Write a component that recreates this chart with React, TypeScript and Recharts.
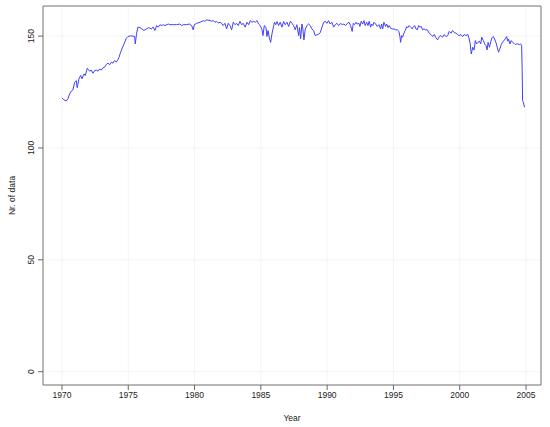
import React from "react";
import { LineChart, Line, XAxis, YAxis, CartesianGrid, ReferenceArea, Label } from "recharts";

const years: number[] = [
  1970.00, 1970.15, 1970.32, 1970.45, 1970.58, 1970.70, 1970.83, 1970.96, 1971.08, 1971.15,
  1971.28, 1971.41, 1971.51, 1971.66, 1971.76, 1971.91, 1972.09, 1972.21, 1972.34, 1972.47,
  1972.59, 1972.71, 1972.84, 1972.96, 1973.09, 1973.22, 1973.34, 1973.47, 1973.60, 1973.72,
  1973.85, 1973.97, 1974.10, 1974.22, 1974.30, 1974.40, 1974.55, 1974.68, 1974.85, 1974.98,
  1975.18, 1975.35, 1975.48, 1975.53, 1975.63, 1975.73, 1975.88, 1976.03, 1976.18, 1976.36,
  1976.54, 1976.73, 1976.89, 1977.01, 1977.14, 1977.26, 1977.39, 1977.52, 1977.64, 1977.77,
  1978.02, 1978.14, 1978.39, 1978.65, 1978.90, 1979.03, 1979.15, 1979.40, 1979.60, 1979.78,
  1979.90, 1979.98, 1980.16, 1980.41, 1980.66, 1980.78, 1980.91, 1981.16, 1981.29, 1981.41,
  1981.54, 1981.67, 1981.79, 1981.92, 1982.04, 1982.16, 1982.29, 1982.42, 1982.54, 1982.67,
  1982.80, 1982.92, 1983.05, 1983.17, 1983.30, 1983.42, 1983.55, 1983.67, 1983.82, 1983.95,
  1984.08, 1984.20, 1984.33, 1984.46, 1984.58, 1984.71, 1984.83, 1984.95, 1985.08, 1985.16,
  1985.26, 1985.38, 1985.46, 1985.54, 1985.63, 1985.74, 1985.84, 1985.97, 1986.04, 1986.12,
  1986.22, 1986.34, 1986.46, 1986.59, 1986.72, 1986.84, 1986.97, 1987.10, 1987.22, 1987.35,
  1987.47, 1987.59, 1987.72, 1987.85, 1987.92, 1988.00, 1988.10, 1988.17, 1988.25, 1988.35,
  1988.48, 1988.60, 1988.73, 1988.85, 1988.98, 1989.10, 1989.23, 1989.36, 1989.48, 1989.61,
  1989.74, 1989.86, 1989.98, 1990.11, 1990.23, 1990.36, 1990.49, 1990.61, 1990.74, 1990.87,
  1991.02, 1991.14, 1991.27, 1991.39, 1991.52, 1991.64, 1991.77, 1991.89, 1991.97, 1992.07,
  1992.17, 1992.27, 1992.40, 1992.47, 1992.57, 1992.68, 1992.78, 1992.87, 1992.98, 1993.08,
  1993.17, 1993.28, 1993.36, 1993.45, 1993.53, 1993.66, 1993.78, 1993.91, 1994.03, 1994.11,
  1994.19, 1994.28, 1994.41, 1994.49, 1994.59, 1994.68, 1994.79, 1994.91, 1995.04, 1995.17,
  1995.29, 1995.41, 1995.49, 1995.54, 1995.62, 1995.69, 1995.79, 1995.89, 1996.00, 1996.09,
  1996.19, 1996.30, 1996.42, 1996.49, 1996.60, 1996.70, 1996.80, 1996.90, 1997.00, 1997.10,
  1997.20, 1997.30, 1997.43, 1997.55, 1997.70, 1997.83, 1997.96, 1998.08, 1998.21, 1998.33,
  1998.46, 1998.58, 1998.71, 1998.83, 1998.96, 1999.09, 1999.21, 1999.34, 1999.46, 1999.58,
  1999.71, 1999.84, 1999.96, 2000.09, 2000.22, 2000.34, 2000.47, 2000.61, 2000.72, 2000.79,
  2000.87, 2000.98, 2001.08, 2001.18, 2001.28, 2001.38, 2001.48, 2001.58, 2001.66, 2001.78,
  2001.88, 2001.98, 2002.06, 2002.14, 2002.24, 2002.35, 2002.43, 2002.53, 2002.63, 2002.73,
  2002.83, 2002.93, 2003.03, 2003.13, 2003.23, 2003.33, 2003.43, 2003.54, 2003.62, 2003.68,
  2003.79, 2003.88, 2003.99, 2004.09, 2004.19, 2004.29, 2004.39, 2004.49, 2004.59, 2004.67,
  2004.71, 2004.74, 2004.79, 2004.89,
];

const counts: number[] = [
  122.4, 121.5, 121.0, 122.0, 124.2, 125.4, 126.0, 129.4, 130.1, 126.9,
  130.9, 132.4, 130.9, 133.1, 132.4, 135.6, 134.3, 134.8, 133.4, 134.6,
  134.8, 134.3, 135.3, 134.8, 135.8, 136.1, 137.3, 137.9, 137.2, 138.3,
  137.9, 139.1, 138.4, 139.4, 140.5, 142.3, 144.7, 146.5, 149.0, 149.8,
  150.1, 150.0, 149.8, 146.5, 151.3, 154.0, 153.8, 153.2, 152.5, 153.2,
  153.8, 153.2, 154.0, 152.5, 154.7, 154.0, 155.1, 154.7, 155.1, 154.7,
  155.4, 155.1, 155.1, 155.1, 155.4, 154.7, 155.1, 155.1, 155.4, 154.7,
  152.8, 155.1, 155.7, 156.2, 156.9, 156.6, 157.2, 157.0, 156.6, 157.0,
  156.2, 156.6, 155.9, 156.2, 155.7, 154.7, 155.7, 153.2, 155.7, 154.7,
  152.8, 156.2, 155.1, 155.7, 154.7, 156.6, 155.1, 155.7, 154.0, 156.2,
  155.1, 156.9, 156.2, 156.6, 156.2, 156.9, 155.4, 154.7, 153.2, 150.2,
  154.7, 154.0, 149.8, 152.5, 149.5, 147.2, 151.0, 154.7, 156.2, 155.1,
  156.5, 154.7, 156.2, 154.0, 156.5, 155.1, 156.2, 154.3, 156.6, 155.7,
  154.7, 152.8, 155.1, 150.2, 153.8, 148.7, 155.4, 153.2, 148.3, 153.2,
  154.7, 155.4, 154.7, 153.2, 152.5, 150.2, 150.6, 150.9, 151.5, 154.0,
  156.2, 156.6, 155.7, 156.9, 155.4, 156.2, 154.0, 155.1, 155.7, 154.7,
  155.7, 155.1, 155.4, 154.7, 155.7, 156.2, 154.7, 152.1, 155.7, 155.1,
  156.2, 155.4, 155.7, 154.3, 156.6, 155.4, 156.9, 154.7, 156.2, 154.7,
  156.6, 154.0, 155.4, 154.7, 156.2, 155.4, 154.3, 155.1, 153.2, 155.4,
  153.2, 156.2, 154.3, 155.4, 153.8, 154.7, 153.5, 153.2, 153.2, 152.8,
  152.8, 152.1, 149.8, 147.2, 150.2, 149.5, 151.3, 152.5, 154.2, 153.8,
  154.7, 154.0, 153.2, 154.0, 154.7, 153.2, 152.8, 154.7, 154.0, 154.3,
  152.8, 153.2, 152.8, 152.8, 151.3, 150.7, 149.8, 150.7, 149.2, 148.3,
  149.8, 150.2, 149.5, 150.7, 149.8, 150.2, 152.1, 151.3, 152.5, 151.6,
  151.3, 150.7, 150.2, 150.7, 149.8, 150.7, 150.2, 150.7, 148.7, 146.5,
  142.0, 145.0, 143.8, 148.0, 146.5, 147.2, 147.7, 146.5, 149.5, 148.0,
  146.5, 145.8, 143.8, 147.2, 145.0, 147.7, 149.2, 149.8, 148.7, 147.2,
  145.0, 142.8, 144.3, 146.2, 147.2, 148.0, 148.7, 149.8, 147.7, 148.7,
  146.5, 148.0, 147.2, 146.8, 146.2, 146.5, 146.5, 146.2, 146.5, 145.8,
  134.6, 121.2, 120.5, 118.2,
];

const xTicks: number[] = [1970, 1975, 1980, 1985, 1990, 1995, 2000, 2005];
const yTicks: number[] = [0, 50, 100, 150];
const xDomain: [number, number] = [1968.57, 2006.13];
const yDomain: [number, number] = [-5.95, 163.45];

const data = years.map((y, i) => ({ year: y, n: counts[i] }));

const FONT = "'Liberation Sans', Arial, sans-serif";
const TEXT = "#222";

const YTick = (props: any) => {
  const { x, y, payload } = props;
  return (
    <text
      x={x}
      y={y}
      transform={`rotate(-90, ${x}, ${y})`}
      textAnchor="middle"
      fontSize={8.5}
      fontFamily={FONT}
      fill={TEXT}
    >
      {payload.value}
    </text>
  );
};

const XTick = (props: any) => {
  const { x, y, payload } = props;
  return (
    <text x={x} y={y} dy="0.71em" textAnchor="middle" fontSize={8.5} fontFamily={FONT} fill={TEXT}>
      {payload.value}
    </text>
  );
};

const YTitle = (props: any) => {
  const vb = props.viewBox || {};
  const cx = 15;
  const cy = (vb.y ?? 0) + (vb.height ?? 0) / 2;
  return (
    <text
      x={cx}
      y={cy}
      transform={`rotate(-90, ${cx}, ${cy})`}
      textAnchor="middle"
      fontSize={8.5}
      fontFamily={FONT}
      fill={TEXT}
    >
      Nr. of data
    </text>
  );
};

export default function App() {
  return (
    <div style={{ position: "absolute", left: 0, top: 0, background: "#fff" }}>
      <LineChart
        width={550}
        height={427}
        data={data}
        margin={{ top: 6, right: 9, bottom: 0, left: 0 }}
      >
        <CartesianGrid stroke="#f4f4f4" />
        <XAxis
          dataKey="year"
          type="number"
          domain={xDomain}
          ticks={xTicks}
          allowDataOverflow
          height={42}
          axisLine={false}
          tickLine={{ stroke: "#666" }}
          tickSize={5}
          tickMargin={2}
          tick={<XTick />}
          interval={0}
        >
          <Label value="Year" position="insideBottom" offset={6} fontSize={8.5} fontFamily={FONT} fill={TEXT} />
        </XAxis>
        <YAxis
          type="number"
          domain={yDomain}
          ticks={yTicks}
          allowDataOverflow
          width={43}
          axisLine={false}
          tickLine={{ stroke: "#666" }}
          tickSize={5}
          tickMargin={4}
          tick={<YTick />}
          interval={0}
        >
          <Label content={<YTitle />} />
        </YAxis>
        <ReferenceArea
          x1={xDomain[0]}
          x2={xDomain[1]}
          y1={yDomain[0]}
          y2={yDomain[1]}
          fill="none"
          stroke="#777"
          strokeWidth={1}
          ifOverflow="visible"
        />
        <Line
          type="linear"
          dataKey="n"
          stroke="#4040ff"
          strokeWidth={1}
          dot={false}
          isAnimationActive={false}
        />
      </LineChart>
    </div>
  );
}
